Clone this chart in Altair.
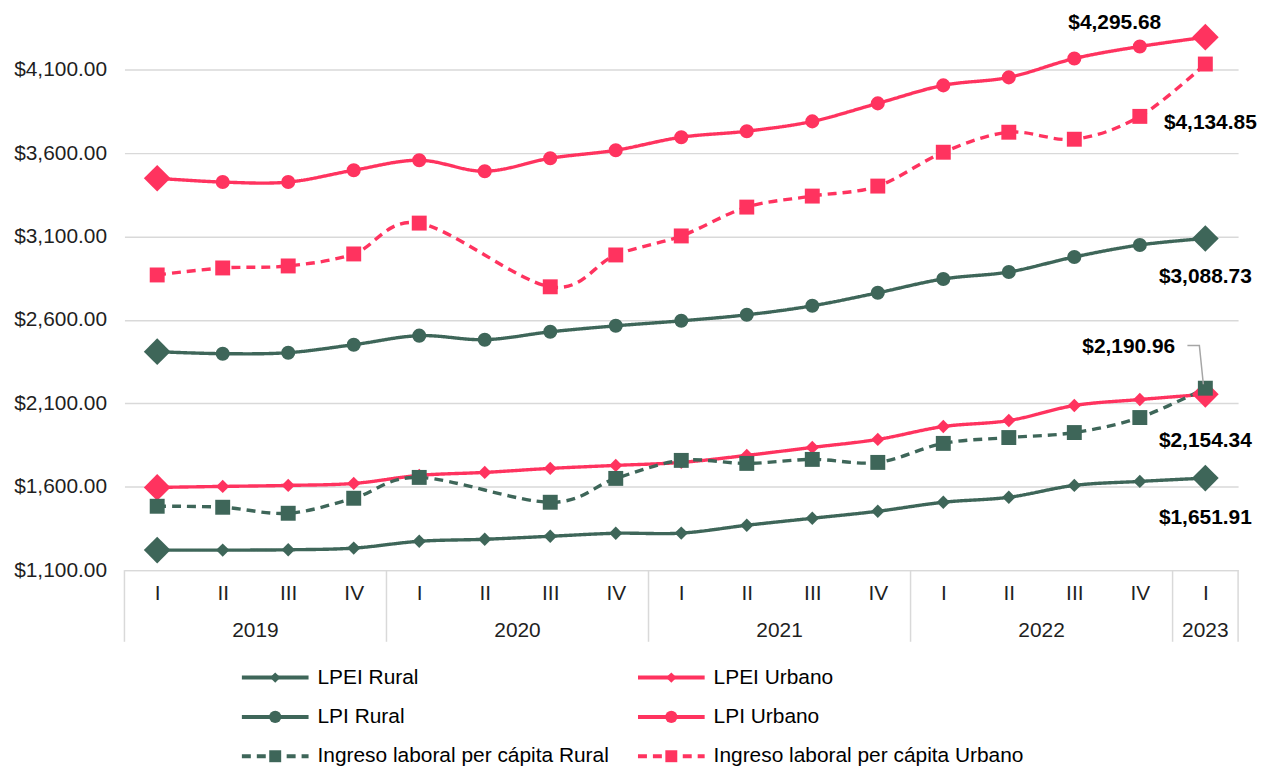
import json
import altair as alt
import pandas as pd

# ---------------- data ----------------
quarters = ["I", "II", "III", "IV", "I", "II", "III", "IV", "I", "II", "III", "IV",
            "I", "II", "III", "IV", "I"]
years = ["2019"] * 4 + ["2020"] * 4 + ["2021"] * 4 + ["2022"] * 4 + ["2023"]

series_names = ["LPEI Rural", "LPEI Urbano", "LPI Rural", "LPI Urbano",
                "Ingreso laboral per cápita Rural", "Ingreso laboral per cápita Urbano"]
series_kind = ["LPEI", "LPEI", "LPI", "LPI", "ING", "ING"]

lpei_rural = [1220, 1220, 1222, 1232, 1273, 1285, 1303, 1321, 1322, 1369, 1411, 1453,
              1507, 1537, 1608, 1632, 1651.91]
lpei_urbano = [1596, 1602, 1608, 1620, 1668, 1686, 1710, 1728, 1746, 1788, 1836, 1884,
               1961, 1997, 2087, 2123, 2154.34]
lpi_rural = [2410, 2398, 2404, 2452, 2506, 2482, 2529, 2565, 2595, 2631, 2685, 2763,
             2846, 2888, 2978, 3050, 3088.73]
lpi_urbano = [3450, 3427, 3427, 3498, 3558, 3492, 3570, 3618, 3696, 3732, 3791, 3899,
              4007, 4055, 4168, 4240, 4295.68]
ing_rural = [1483, 1477, 1441, 1531, 1656, None, 1507, 1650, 1758, 1740, 1764, 1746,
             1860, 1895, 1925, 2015, 2190.96]
ing_urbano = [2870, 2912, 2924, 2996, 3181, None, 2799, 2990, 3104, 3277, 3343, 3403,
              3606, 3726, 3684, 3821, 4134.85]

y_ticks = [1100, 1600, 2100, 2600, 3100, 3600, 4100]

# ---------------- styling ----------------
RED = "#FF335F"
GREEN = "#3E6659"
GRID = "#D9D9D9"
FONT = "Liberation Sans"
W, H = 1119, 563
N = len(quarters)
FS = 21

colors = [GREEN, RED, GREEN, RED, GREEN, RED]

rows = []
all_vals = [lpei_rural, lpei_urbano, lpi_rural, lpi_urbano, ing_rural, ing_urbano]
for name, kind, vals in zip(series_names, series_kind, all_vals):
    for i, v in enumerate(vals):
        rows.append({"serie": name, "tipo": kind, "idx": i, "valor": v,
                     "trimestre": quarters[i], "anio": years[i]})
df = pd.DataFrame(rows)

label_expr = json.dumps(quarters) + "[datum.value]"

x_enc = alt.X("idx:Q",
              scale=alt.Scale(domain=[-0.5, N - 0.5], nice=False, zero=False),
              axis=alt.Axis(values=list(range(N)), labelExpr=label_expr, grid=False,
                            ticks=False, domainColor=GRID, domainWidth=1.5,
                            labelPadding=13, labelFontSize=FS, labelColor="#1F1F1F",
                            labelFont=FONT, title=None))
y_enc = alt.Y("valor:Q",
              scale=alt.Scale(domain=[1100, 4460], nice=False, zero=False),
              axis=alt.Axis(values=y_ticks, format="$,.2f", grid=True, gridColor=GRID,
                            gridWidth=1.5, ticks=False, domain=False, labelPadding=18,
                            labelFontSize=FS, labelColor="#1F1F1F", labelFont=FONT,
                            minExtent=117, maxExtent=117, title=None))

color_scale = alt.Scale(domain=series_names, range=colors)
dash_scale = alt.Scale(domain=series_names,
                       range=[[1, 0], [1, 0], [1, 0], [1, 0], [9, 6], [9, 6]])

base = alt.Chart(df)

lines = base.transform_filter("isValid(datum.valor)").mark_line(
    interpolate="cardinal", strokeWidth=3.4
).encode(
    x=x_enc, y=y_enc,
    color=alt.Color("serie:N", scale=color_scale, legend=None),
    strokeDash=alt.StrokeDash("serie:N", scale=dash_scale, legend=None),
)


def markers(filt, shape, size):
    return base.transform_filter(filt).mark_point(
        shape=shape, size=size, filled=True, opacity=1
    ).encode(x=x_enc, y=y_enc,
             color=alt.Color("serie:N", scale=color_scale, legend=None))


last = N - 1
big_diamonds = markers(f"datum.tipo != 'ING' && (datum.idx == 0 || datum.idx == {last})",
                       "diamond", 720)
small_diamonds = markers(f"datum.tipo == 'LPEI' && datum.idx > 0 && datum.idx < {last}",
                         "diamond", 180)
circles = markers(f"datum.tipo == 'LPI' && datum.idx > 0 && datum.idx < {last}",
                  "circle", 200)
squares = markers("datum.tipo == 'ING' && isValid(datum.valor)", "square", 225)

# end-value labels (offsets are annotation styling)
label_offsets = {
    "LPI Urbano": (-91, -14),
    "Ingreso laboral per cápita Urbano": (5, 59),
    "LPI Rural": (0, 39),
    "Ingreso laboral per cápita Rural": (-77, -41),
    "LPEI Urbano": (0, 47),
    "LPEI Rural": (0, 40),
}
labels = []
for name, (dx, dy) in label_offsets.items():
    labels.append(
        base.transform_filter(f"datum.serie == '{name}' && datum.idx == {last}")
        .mark_text(dx=dx, dy=dy, fontSize=FS, fontWeight="bold", font=FONT,
                   color="#000000", align="center", baseline="middle")
        .encode(x=x_enc, y=y_enc, text=alt.Text("valor:Q", format="$,.2f"))
    )

# leader line for the Ingreso Rural label
v_ir = ing_rural[-1]
px_val = 3360 / H
px_idx = 1 / (W / N)
leader_df = pd.DataFrame({
    "idx": [last - 18 * px_idx, last - 6 * px_idx, last - 2 * px_idx],
    "valor": [v_ir + 43 * px_val, v_ir + 43 * px_val, v_ir + 4 * px_val],
    "orden": [0, 1, 2],
})
leader = alt.Chart(leader_df).mark_line(color="#A6A6A6", strokeWidth=1.5).encode(
    x=x_enc, y=y_enc, order="orden:Q")

# year labels and separators
year_rows = []
for yv in dict.fromkeys(years):
    ids = [i for i, yy in enumerate(years) if yy == yv]
    year_rows.append({"anio": yv, "idx": sum(ids) / len(ids)})
year_df = pd.DataFrame(year_rows)
year_labels = alt.Chart(year_df).mark_text(
    fontSize=FS, font=FONT, color="#1F1F1F", baseline="middle"
).encode(x=x_enc, y=alt.value(H + 61), text="anio:N")

bounds = [-0.5] + [i - 0.5 for i in range(1, N) if years[i] != years[i - 1]] + [N - 0.5]
sep_df = pd.DataFrame({"idx": bounds})
separators = alt.Chart(sep_df).mark_rule(color=GRID, strokeWidth=1.5).encode(
    x=x_enc, y=alt.value(H), y2=alt.value(H + 72))

main = alt.layer(
    lines, big_diamonds, small_diamonds, circles, squares, leader,
    *labels, year_labels, separators
).properties(width=W, height=H)

# ---------------- legend (drawn as its own small chart) ----------------
legend_df = pd.DataFrame({
    "serie": series_names,
    "tipo": series_kind,
    "col": [i % 2 for i in range(6)],
    "fila": [i // 2 for i in range(6)],
})
LH = 100
lx = alt.X("col:O", scale=alt.Scale(type="point", domain=[0, 1], range=[118, 516],
                                    padding=0), axis=None)
ly = alt.Y("fila:O", scale=alt.Scale(type="point", domain=[0, 1, 2], range=[15, 94],
                                     padding=0), axis=None)
lcolor = alt.Color("serie:N", scale=color_scale, legend=None)
leg_dash = alt.Scale(domain=series_names,
                     range=[[1, 0], [1, 0], [1, 0], [1, 0], [9, 4], [9, 4]])
lbase = alt.Chart(legend_df)
leg_lines = lbase.mark_rule(strokeWidth=4, x2Offset=67).encode(
    x=lx, x2=alt.X2("col:O"), y=ly, color=lcolor,
    strokeDash=alt.StrokeDash("serie:N", scale=leg_dash, legend=None))


def leg_markers(kind, shape, size):
    return lbase.transform_filter(f"datum.tipo == '{kind}'").mark_point(
        shape=shape, size=size, filled=True, opacity=1, xOffset=33.5
    ).encode(x=lx, y=ly, color=lcolor)


leg_text = lbase.mark_text(align="left", baseline="middle", dx=76, fontSize=FS,
                           font=FONT, color="#000000").encode(x=lx, y=ly, text="serie:N")

legend_chart = alt.layer(
    leg_lines,
    leg_markers("LPEI", "diamond", 110),
    leg_markers("LPI", "circle", 150),
    leg_markers("ING", "square", 144),
    leg_text,
).properties(width=W, height=LH)

chart = alt.vconcat(main, legend_chart, spacing=20).properties(
    padding={"left": 0, "top": 0, "right": 0, "bottom": 0},
).configure(font=FONT).configure_view(stroke=None)

chart.save("out.html", embed_options={"renderer": "svg", "actions": False})
